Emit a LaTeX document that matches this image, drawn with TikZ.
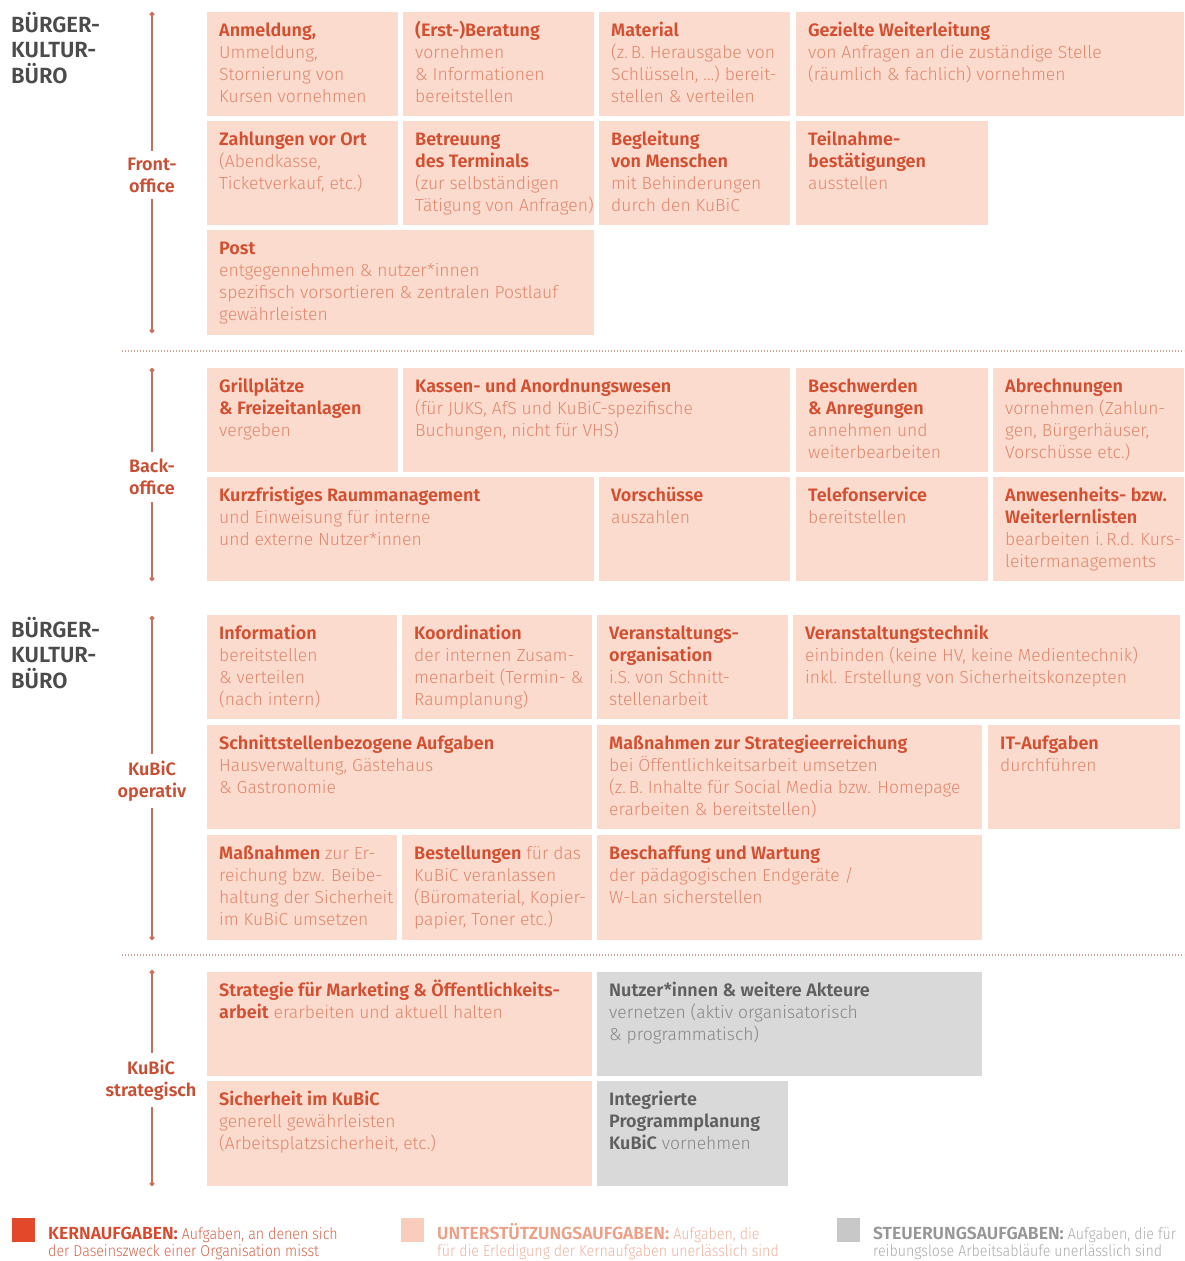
\documentclass[tikz,border=0pt]{standalone}
\usepackage{fontspec}
\usetikzlibrary{arrows.meta,calc}
\newfontfamily\bodyfont{Fira Sans Light}
\newfontfamily\lgbodyfont{Fira Sans Light}[FakeStretch=0.9]
\newfontfamily\titlefont{Fira Sans SemiBold}
\definecolor{fill-p}{RGB}{250,219,206}
\definecolor{fill-g}{RGB}{217,217,217}
\definecolor{ttl-p}{RGB}{212,78,48}
\definecolor{body-p}{RGB}{226,134,108}
\definecolor{ttl-g}{RGB}{95,95,95}
\definecolor{body-g}{RGB}{135,135,135}
\definecolor{sidecol}{RGB}{200,78,52}
\definecolor{vlinecol}{RGB}{204,110,88}
\definecolor{dotcol}{RGB}{205,160,148}
\definecolor{headcol}{RGB}{75,75,75}
\definecolor{lg-red}{RGB}{226,72,42}
\definecolor{lg-peach}{RGB}{249,205,188}
\definecolor{lg-grey}{RGB}{200,200,200}
\definecolor{lgt-red}{RGB}{215,72,45}
\definecolor{lgb-red}{RGB}{214,100,75}
\definecolor{lgt-peach}{RGB}{238,160,135}
\definecolor{lgb-peach}{RGB}{240,178,158}
\definecolor{lgt-grey}{RGB}{150,150,150}
\definecolor{lgb-grey}{RGB}{172,172,172}
\tikzset{
  tbox/.style={rectangle, inner sep=0pt, anchor=north west},
  ttext/.style={anchor=base west, inner sep=0pt},
  vl/.style={draw=vlinecol, line width=1.3pt, {Circle[length=4.5pt]}-{Circle[length=4.5pt]}},
  sidelbl/.style={fill=white, align=center, text=sidecol, inner xsep=3pt, inner ysep=7pt,
    font=\titlefont\fontsize{18}{22}\selectfont},
  sep/.style={draw=dotcol, line width=1.2pt, dash pattern=on 1pt off 2pt},
  lgsq/.style={rectangle, inner sep=0pt, anchor=north west, minimum width=23pt, minimum height=24pt},
  head/.style={anchor=base west, inner sep=0pt}
}
\newcommand\task[7][p]{%
  \node[tbox, fill=fill-#1, minimum width={#5pt-#3pt}, minimum height={#6pt-#4pt}] (#2) at (#3,#4) {};
  \node[ttext] (#2-t) at ([shift={(12,24)}]#2.north west)
    {\bodyfont\fontsize{17.5}{22}\selectfont\color{body-#1}%
     \def\T##1{{\titlefont\fontsize{18}{22}\selectfont\color{ttl-#1}##1}}\parbox[t]{420pt}{\raggedright\leavevmode #7}};
}
\newcommand\legend[6]{%
  \node[lgsq, fill=lg-#2] (#1) at (#3,#4) {};
  \node[ttext] (#1-t) at ([shift={(36,21.5)}]#1.north west)
    {\lgbodyfont\fontsize{15.8}{17.3}\selectfont\color{lgb-#2}\parbox[t]{420pt}{\raggedright\leavevmode
     {\titlefont\fontsize{17.5}{17.3}\selectfont\color{lgt-#2}#5}#6}};
}
\newcommand\headtext{{\titlefont\fontsize{22}{25.5}\selectfont\color{headcol}\parbox[t]{150pt}{\raggedright B\"URGER-\\KULTUR-\\B\"URO}}}
\begin{document}
\begin{tikzpicture}[x=1pt,y=-1pt]
\useasboundingbox[fill=white] (0,0) rectangle (1184,1261);

% ---------- headings ----------
\node[head] (h1) at (11,32) {\headtext};
\node[head] (h2) at (11,637) {\headtext};

% ---------- Frontoffice ----------
\coordinate (fo-a) at (152,12);
\coordinate (fo-b) at (152,333);
\draw[vl] (fo-a) -- (fo-b);
\node[sidelbl] (fo) at (152,175) {Front-\\office};

\task{anm}{207}{12}{398}{116}{\T{Anmeldung,}\\Ummeldung,\\Stornierung von\\Kursen vornehmen}
\task{ber}{403}{12}{594}{116}{\T{(Erst-)Beratung}\\vornehmen\\\& Informationen\\bereitstellen}
\task{mat}{599}{12}{790}{116}{\T{Material}\\(z.\,B. Herausgabe von\\Schlüsseln, …) bereit-\\stellen \& verteilen}
\task{wei}{796}{12}{1184}{116}{\T{Gezielte Weiterleitung}\\von Anfragen an die zuständige Stelle\\(räumlich \& fachlich) vornehmen}
\task{zah}{207}{121}{398}{225}{\T{Zahlungen vor Ort}\\(Abendkasse,\\Ticketverkauf, etc.)}
\task{bet}{403}{121}{594}{225}{\T{Betreuung\\des Terminals}\\(zur selbständigen\\Tätigung von Anfragen)}
\task{beg}{599}{121}{790}{225}{\T{Begleitung\\von Menschen}\\mit Behinderungen\\durch den KuBiC}
\task{tei}{796}{121}{988}{225}{\T{Teilnahme-\\bestätigungen}\\ausstellen}
\task{post}{207}{230}{594}{335}{\T{Post}\\entgegennehmen \& nutzer*innen\\spezifisch vorsortieren \& zentralen Postlauf\\gewährleisten}

\coordinate (s1-a) at (122,351);
\coordinate (s1-b) at (1184,351);
\draw[sep] (s1-a) -- (s1-b);

% ---------- Backoffice ----------
\coordinate (bo-a) at (152,368);
\coordinate (bo-b) at (152,581);
\draw[vl] (bo-a) -- (bo-b);
\node[sidelbl] (bo) at (152,477) {Back-\\office};

\task{gri}{207}{368}{398}{472}{\T{Grillplätze\\\& Freizeitanlagen}\\vergeben}
\task{kas}{403}{368}{790}{472}{\T{Kassen- und Anordnungswesen}\\(für JUKS, AfS und KuBiC-spezifische\\Buchungen, nicht für VHS)}
\task{bes}{796}{368}{988}{472}{\T{Beschwerden\\\& Anregungen}\\annehmen und\\weiterbearbeiten}
\task{abr}{993}{368}{1184}{472}{\T{Abrechnungen}\\vornehmen (Zahlun-\\gen, Bürgerhäuser,\\Vorschüsse etc.)}
\task{kur}{207}{477}{594}{581}{\T{Kurzfristiges Raummanagement}\\und Einweisung für interne\\und externe Nutzer*innen}
\task{vor}{599}{477}{790}{581}{\T{Vorschüsse}\\auszahlen}
\task{tel}{796}{477}{988}{581}{\T{Telefonservice}\\bereitstellen}
\task{anw}{993}{477}{1184}{581}{\T{Anwesenheits- bzw.\\Weiterlernlisten}\\bearbeiten i.\,R.d. Kurs-\\leitermanagements}

% ---------- KuBiC operativ ----------
\coordinate (op-a) at (152,616);
\coordinate (op-b) at (152,940);
\draw[vl] (op-a) -- (op-b);
\node[sidelbl] (op) at (152,781) {KuBiC\\operativ};

\task{inf}{207}{615}{397}{719}{\T{Information}\\bereitstellen\\\& verteilen\\(nach intern)}
\task{koo}{402}{615}{592}{719}{\T{Koordination}\\der internen Zusam-\\menarbeit (Termin- \&\\Raumplanung)}
\task{vog}{597}{615}{788}{719}{\T{Veranstaltungs-\\organisation}\\i.S. von Schnitt-\\stellenarbeit}
\task{vtk}{793}{615}{1180}{719}{\T{Veranstaltungstechnik}\\einbinden (keine HV, keine Medientechnik)\\inkl. Erstellung von Sicherheitskonzepten}
\task{sch}{207}{725}{592}{829}{\T{Schnittstellenbezogene Aufgaben}\\Hausverwaltung, Gästehaus\\\& Gastronomie}
\task{mst}{597}{725}{982}{829}{\T{Maßnahmen zur Strategieerreichung}\\bei Öffentlichkeitsarbeit umsetzen\\(z.\,B. Inhalte für Social Media bzw. Homepage\\erarbeiten \& bereitstellen)}
\task{ita}{988}{725}{1180}{829}{\T{IT-Aufgaben}\\durchführen}
\task{mas}{207}{835}{397}{940}{\T{Maßnahmen} zur Er-\\reichung bzw. Beibe-\\haltung der Sicherheit\\im KuBiC umsetzen}
\task{bst}{402}{835}{592}{940}{\T{Bestellungen} für das\\KuBiC veranlassen\\(Büromaterial, Kopier-\\papier, Toner etc.)}
\task{bwa}{597}{835}{982}{940}{\T{Beschaffung und Wartung}\\der pädagogischen Endgeräte /\\W-Lan sicherstellen}

\coordinate (s2-a) at (122,955);
\coordinate (s2-b) at (1184,955);
\draw[sep] (s2-a) -- (s2-b);

% ---------- KuBiC strategisch ----------
\coordinate (st-a) at (152,970);
\coordinate (st-b) at (152,1186);
\draw[vl] (st-a) -- (st-b);
\node[sidelbl] (st) at (151,1080) {KuBiC\\strategisch};

\task{stm}{207}{972}{592}{1076}{\T{Strategie für Marketing \& Öffentlichkeits-\\arbeit} erarbeiten und aktuell halten}
\task[g]{nut}{597}{972}{982}{1076}{\T{Nutzer*innen \& weitere Akteure}\\vernetzen (aktiv organisatorisch\\\& programmatisch)}
\task{sic}{207}{1081}{592}{1186}{\T{Sicherheit im KuBiC}\\generell gewährleisten\\(Arbeitsplatzsicherheit, etc.)}
\task[g]{ipp}{597}{1081}{788}{1186}{\T{Integrierte\\Programmplanung\\KuBiC} vornehmen}

% ---------- legend ----------
\legend{lk}{red}{12}{1218}{KERNAUFGABEN:}{ Aufgaben, an denen sich\\der Daseinszweck einer Organisation misst}
\legend{lu}{peach}{401}{1218}{UNTERSTÜTZUNGSAUFGABEN:}{ Aufgaben, die\\für die Erledigung der Kernaufgaben unerlässlich sind}
\legend{ls}{grey}{837}{1218}{STEUERUNGSAUFGABEN:}{ Aufgaben, die für\\reibungslose Arbeitsabläufe unerlässlich sind}
\end{tikzpicture}
\end{document}
